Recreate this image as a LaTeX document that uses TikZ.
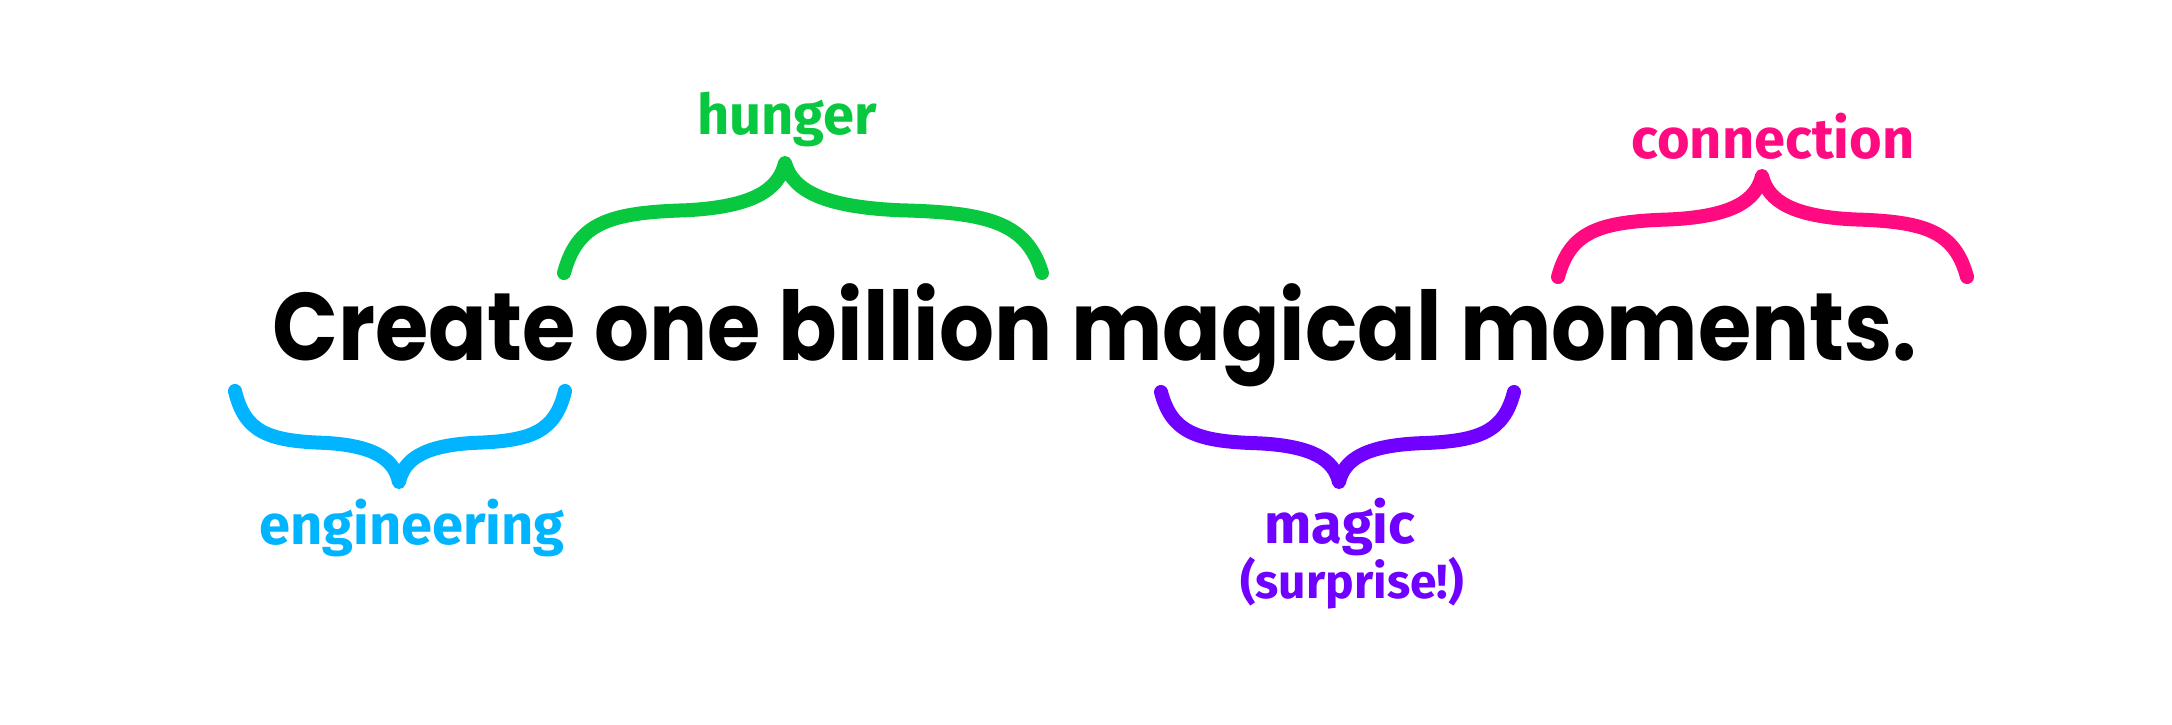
\documentclass[tikz,border=0pt]{standalone}
\usepackage{fontspec}
\setmainfont{Poppins}
\newfontfamily\titlefont{Poppins}[FakeStretch=0.9]
\newfontfamily\handfont{Fira Sans}
\usetikzlibrary{positioning}
\definecolor{hungergreen}{RGB}{8,200,64}
\definecolor{engblue}{RGB}{0,180,255}
\definecolor{magicpurple}{RGB}{112,0,255}
\definecolor{connpink}{RGB}{255,10,128}

\begin{document}
\begin{tikzpicture}[x=0.5pt,y=-0.5pt,line cap=round,line join=round]
    \tikzstyle{title}=[font=\titlefont\bfseries\fontsize{48}{58}\selectfont, inner sep=0pt, anchor=base]
    \tikzstyle{note}=[font=\handfont\bfseries\fontsize{28}{34}\selectfont, inner sep=0pt, anchor=base]
    \tikzstyle{curly}=[line width=7pt]

    \fill[white] (0,0) rectangle (2172,724);
    \useasboundingbox (0,0) rectangle (2172,724);

    \node[title] (sentence) at (1095,360) {Create one billion magical moments.};

    % curly braces: left end, tip, right end
    \foreach \name/\col/\xl/\xt/\xr/\ye/\yt in {%
        hunger/hungergreen/564/785/1042/273/163,
        conn/connpink/1558/1762/1967/277/176,
        eng/engblue/235/399/565/391/482,
        magic/magicpurple/1161/1339/1514/392/482}
    {
      \pgfmathsetmacro\dl{\xt-\xl}
      \pgfmathsetmacro\dr{\xr-\xt}
      \pgfmathsetmacro\h{\yt-\ye}
      \coordinate (\name-l) at (\xl,\ye);
      \coordinate (\name-t) at (\xt,\yt);
      \coordinate (\name-r) at (\xr,\ye);
      \draw[curly,\col] (\name-l)
        .. controls ({\xl+0.06*\dl},{\ye+0.45*(\h)}) and ({\xl+0.2*\dl},{\ye+0.55*(\h)}) .. ({\xl+0.55*\dl},{\ye+0.57*(\h)})
        .. controls ({\xl+0.85*\dl},{\ye+0.6*(\h)}) and ({\xt-0.03*\dl},{\ye+0.75*(\h)}) .. (\name-t)
        .. controls ({\xt+0.03*\dr},{\ye+0.75*(\h)}) and ({\xt+0.15*\dr},{\ye+0.6*(\h)}) .. ({\xt+0.45*\dr},{\ye+0.57*(\h)})
        .. controls ({\xt+0.8*\dr},{\ye+0.55*(\h)}) and ({\xr-0.06*\dr},{\ye+0.45*(\h)}) .. (\name-r);
    }

    \node[note, hungergreen] (hungerlabel) at (787,134) {hunger};
    \node[note, connpink]    (connlabel)   at (1773,158) {connection};
    \node[note, engblue]     (englabel)    at (412,544) {engineering};
    \node[note, magicpurple] (magiclabel)  at (1340,543) {magic};
    \node[note, magicpurple, font=\handfont\bfseries\fontsize{24}{28}\selectfont] (surpriselabel) at (1352,598) {(surprise!)};

\end{tikzpicture}
\end{document}
